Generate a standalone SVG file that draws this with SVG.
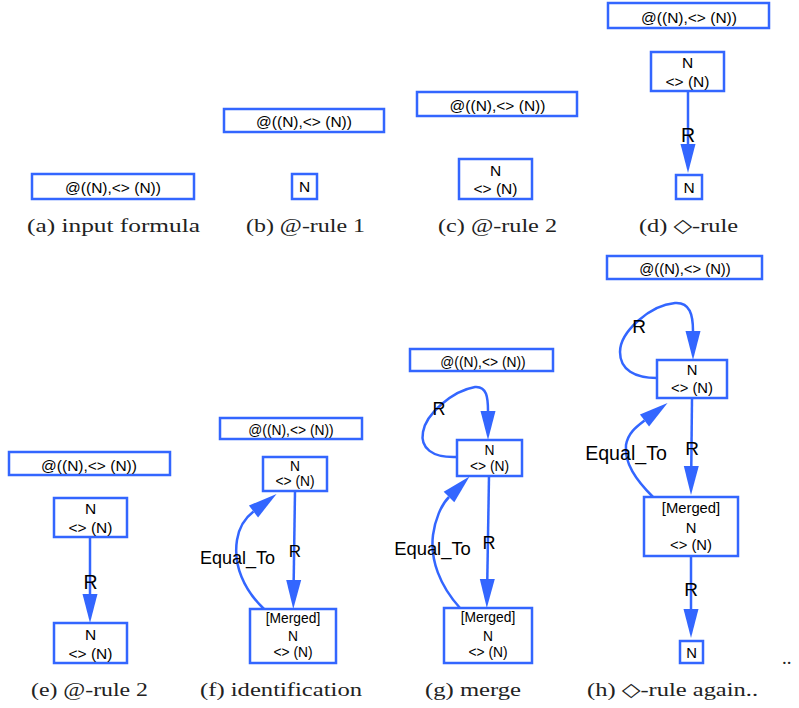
<svg xmlns="http://www.w3.org/2000/svg" width="799" height="708" viewBox="0 0 799 708">
<defs>
<marker id="ah" markerUnits="userSpaceOnUse" markerWidth="30" markerHeight="16" refX="0" refY="7.5" orient="auto" overflow="visible">
<path d="M0,0 L29,7.5 L0,15 Z" fill="#3366FF"/>
</marker>
<style>
.box{fill:#fff;stroke:#3366FF;stroke-width:2.5}
.nt{font-family:"Liberation Sans",Arial,sans-serif;fill:#000;text-anchor:middle}
.el{font-family:"Liberation Sans",Arial,sans-serif;fill:#000;text-anchor:middle}
.edge{fill:none;stroke:#3366FF;stroke-width:2.5;marker-end:url(#ah)}
.cap{font-family:"Liberation Serif","DejaVu Serif",serif;font-size:19px;fill:#222}
.s155{font-size:15.5px}.s14{font-size:13.8px}.s15{font-size:14.8px}
</style>
</defs>
<rect width="799" height="708" fill="#fff"/>

<!-- (a) -->
<g id="a_formula"><rect class="box" x="32" y="174" width="162" height="25"/><text class="nt s155" x="113" y="193">@((N),&lt;&gt; (N))</text></g>
<text class="cap" x="27" y="232" textLength="173" lengthAdjust="spacingAndGlyphs">(a)  input formula</text>

<!-- (b) -->
<g id="b_formula"><rect class="box" x="224" y="109" width="160" height="23"/><text class="nt s155" x="304" y="127">@((N),&lt;&gt; (N))</text></g>
<g id="b_n"><rect class="box" x="292" y="174" width="25" height="25"/><text class="nt s155" x="304.5" y="192">N</text></g>
<text class="cap" x="246" y="232" textLength="119" lengthAdjust="spacingAndGlyphs">(b)  @-rule 1</text>

<!-- (c) -->
<g id="c_formula"><rect class="box" x="417" y="92" width="160" height="24"/><text class="nt s155" x="497.5" y="111">@((N),&lt;&gt; (N))</text></g>
<g id="c_n"><rect class="box" x="459" y="159" width="73" height="40"/><text class="nt s155" x="495.5" y="175.5">N</text><text class="nt s155" x="495.5" y="193.5">&lt;&gt; (N)</text></g>
<text class="cap" x="438" y="232" textLength="119" lengthAdjust="spacingAndGlyphs">(c)  @-rule 2</text>

<!-- (d) -->
<g id="d_formula"><rect class="box" x="608" y="3" width="161" height="25"/><text class="nt s155" x="689" y="23">@((N),&lt;&gt; (N))</text></g>
<g id="d_n1"><rect class="box" x="651" y="52" width="73" height="39"/><text class="nt s155" x="687.5" y="68">N</text><text class="nt s155" x="687.5" y="86.5">&lt;&gt; (N)</text></g>
<g id="d_n2"><rect class="box" x="676" y="175" width="26" height="24"/><text class="nt s155" x="689" y="193">N</text></g>
<text class="cap" x="639" y="232" textLength="99" lengthAdjust="spacingAndGlyphs">(d)  ◇-rule</text>

<!-- (e) -->
<g id="e_formula"><rect class="box" x="9" y="452" width="161" height="23"/><text class="nt s155" x="89" y="470.5">@((N),&lt;&gt; (N))</text></g>
<g id="e_n1"><rect class="box" x="54" y="498" width="73" height="39"/><text class="nt s155" x="90.5" y="514">N</text><text class="nt s155" x="90.5" y="533">&lt;&gt; (N)</text></g>
<g id="e_n2"><rect class="box" x="54" y="623" width="73" height="40"/><text class="nt s155" x="90.5" y="640">N</text><text class="nt s155" x="90.5" y="659">&lt;&gt; (N)</text></g>
<text class="cap" x="31" y="696" textLength="117" lengthAdjust="spacingAndGlyphs">(e)  @-rule 2</text>

<!-- (f) -->
<g id="f_formula"><rect class="box" x="220" y="418" width="142" height="21"/><text class="nt s14" x="291" y="435">@((N),&lt;&gt; (N))</text></g>
<g id="f_n1"><rect class="box" x="263" y="457" width="64" height="34"/><text class="nt s14" x="295" y="470.5">N</text><text class="nt s14" x="295" y="486">&lt;&gt; (N)</text></g>
<g id="f_n2"><rect class="box" x="250" y="609" width="86" height="54"/><text class="nt s14" x="293" y="623">[Merged]</text><text class="nt s14" x="293" y="640.5">N</text><text class="nt s14" x="293" y="656.5">&lt;&gt; (N)</text></g>
<text class="cap" x="200" y="696" textLength="162" lengthAdjust="spacingAndGlyphs">(f)  identification</text>

<!-- (g) -->
<g id="g_formula"><rect class="box" x="410" y="349" width="143" height="22"/><text class="nt s14" x="483" y="366.5">@((N),&lt;&gt; (N))</text></g>
<g id="g_n1"><rect class="box" x="457" y="440" width="65" height="36"/><text class="nt s14" x="489.5" y="455">N</text><text class="nt s14" x="489.5" y="470.5">&lt;&gt; (N)</text></g>
<g id="g_n2"><rect class="box" x="444" y="608" width="88" height="55"/><text class="nt s14" x="488" y="622">[Merged]</text><text class="nt s14" x="488" y="641">N</text><text class="nt s14" x="488" y="656.5">&lt;&gt; (N)</text></g>
<text class="cap" x="425" y="696" textLength="96" lengthAdjust="spacingAndGlyphs">(g)  merge</text>

<!-- (h) -->
<g id="h_formula"><rect class="box" x="607" y="256" width="155" height="23"/><text class="nt s15" x="685" y="274">@((N),&lt;&gt; (N))</text></g>
<g id="h_n1"><rect class="box" x="657" y="360" width="70" height="38"/><text class="nt s15" x="692" y="375">N</text><text class="nt s15" x="692" y="393">&lt;&gt; (N)</text></g>
<g id="h_n2"><rect class="box" x="644" y="497" width="94" height="59"/><text class="nt s15" x="691" y="512.5">[Merged]</text><text class="nt s15" x="691" y="532.5">N</text><text class="nt s15" x="691" y="549.5">&lt;&gt; (N)</text></g>
<g id="h_n3"><rect class="box" x="680" y="641" width="23" height="22"/><text class="nt s15" x="691.5" y="658">N</text></g>
<text class="cap" x="587" y="696" textLength="171" lengthAdjust="spacingAndGlyphs">(h)  ◇-rule again..</text>
<text class="cap" x="782" y="664">..</text>

<g id="connectors">
<path class="edge" d="M688,91 L688,144"/>
<path class="edge" d="M90,537 L90,594"/>
<path class="edge" d="M295,491 L293.7,580"/>
<path class="edge" d="M264,609 C244,590 233,565 237,540 C239,527 245,518 253.5,511.5"/>
<path class="edge" d="M457,457 C432,458 420,448 423,432 C426,414 452,391 475,387 C487,386 488,398 488,411"/>
<path class="edge" d="M489,476 L487.3,579"/>
<path class="edge" d="M460,608 C440,586 430,560 433,535 C435,520 441,505 449,497"/>
<path class="edge" d="M657,378 C635,378 620,370 620,352 C620,332 650,305 675,303 C690,302 693,315 693,331"/>
<path class="edge" d="M692,398 L691.3,466"/>
<path class="edge" d="M653,497 C636,480 624,463 626,445 C628,433 636,427 644.5,420.5"/>
<path class="edge" d="M691,556 L691,609"/>
</g>

<g id="edge-labels">
<text class="el" x="688" y="141.5" font-size="19.5">R</text>
<text class="el" x="90.5" y="589" font-size="19.5">R</text>
<text class="el" x="295" y="557" font-size="17">R</text>
<text class="el" x="237.5" y="564" font-size="18">Equal_To</text>
<text class="el" x="439" y="415" font-size="18">R</text>
<text class="el" x="489" y="549" font-size="18">R</text>
<text class="el" x="432.5" y="555" font-size="18.4">Equal_To</text>
<text class="el" x="639" y="333" font-size="19">R</text>
<text class="el" x="692" y="455" font-size="19">R</text>
<text class="el" x="626" y="460" font-size="19.6">Equal_To</text>
<text class="el" x="691" y="595.5" font-size="19">R</text>
</g>
</svg>
